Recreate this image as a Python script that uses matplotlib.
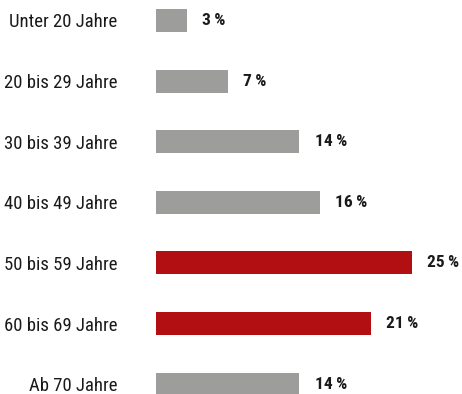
import matplotlib
matplotlib.use("Agg")
import matplotlib.pyplot as plt
from matplotlib import font_manager

groups = ["Unter 20 Jahre", "20 bis 29 Jahre", "30 bis 39 Jahre", "40 bis 49 Jahre",
          "50 bis 59 Jahre", "60 bis 69 Jahre", "Ab 70 Jahre"]
shares = [3, 7, 14, 16, 25, 21, 14]
highlight = [False, False, False, False, True, True, False]

gray = "#9d9d9c"
red = "#b20f12"

names = {f.name for f in font_manager.fontManager.ttflist}
fam = [f for f in ["Liberation Sans Narrow", "Roboto Condensed", "Liberation Sans"] if f in names] + ["DejaVu Sans"]
plt.rcParams['font.family'] = fam

fig = plt.figure(figsize=(4.62, 3.94), dpi=100)
ax = fig.add_axes([156 / 462, 0, 1 - 156 / 462, 1])

ypos = list(range(len(groups)))
colors = [red if h else gray for h in highlight]
ax.barh(ypos, shares, height=0.38, color=colors)

for y, v in zip(ypos, shares):
    ax.text(v + 1.5, y, f"{v}\u2009%", va="center", ha="left",
            fontsize=12.5, fontweight="bold", color="#1a1a1a")

ax.set_xlim(0, (462 - 156) / 10.24)
ax.set_ylim(6.163, -0.338)
ax.set_yticks(ypos)
ax.set_yticklabels(groups, fontsize=13.5, color="#1a1a1a")
ax.tick_params(axis="y", length=0, pad=28)
ax.set_xticks([])
for s in ax.spines.values():
    s.set_visible(False)

fig.savefig("out.png", dpi=100)
